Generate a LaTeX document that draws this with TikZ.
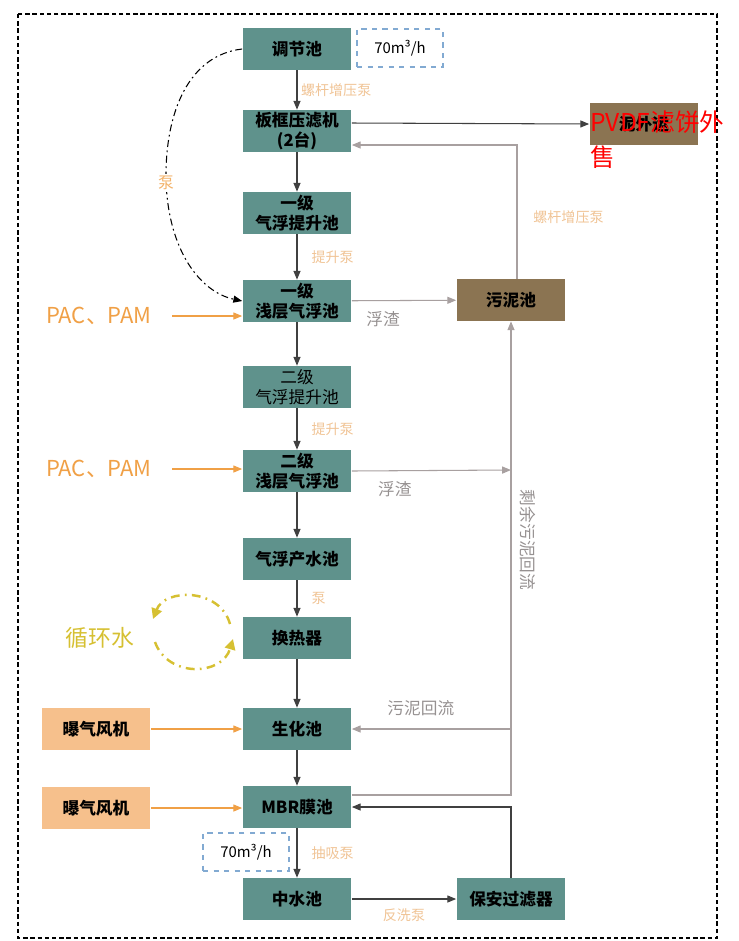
\documentclass[tikz,border=0pt]{standalone}
\usepackage{fontspec}
\setmainfont{Noto Sans CJK SC}
\usetikzlibrary{positioning, arrows.meta, calc}

\definecolor{poolteal}{RGB}{95,146,140}
\definecolor{sludgebrown}{RGB}{139,116,82}
\definecolor{blowerpeach}{RGB}{246,192,140}
\definecolor{flowdark}{RGB}{64,64,64}
\definecolor{flowgray}{RGB}{168,160,160}
\definecolor{labelgray}{RGB}{150,145,145}
\definecolor{dosorange}{RGB}{240,160,70}
\definecolor{pumpbeige}{RGB}{240,196,150}
\definecolor{loopyellow}{RGB}{214,192,50}
\definecolor{ratedash}{RGB}{130,170,210}

\begin{document}
\begin{tikzpicture}[
    x=0.02cm, y=-0.02cm,
    % ── node styles ─────────────────────────────────────────
    pool/.style = { fill=poolteal, minimum width=2.18cm, minimum height=0.84cm,
            align=center, inner sep=1pt, font=\fontsize{9.5}{11.5}\selectfont\bfseries, },
    sludge/.style = {pool, fill=sludgebrown}, blower/.style = {pool,
            fill=blowerpeach}, rate/.style = { draw=ratedash, dashed, line width=0.7pt,
            minimum width=1.72cm, minimum height=0.76cm, font=\fontsize{8.5}{10}\selectfont, },
    pump/.style = {text=pumpbeige, font=\fontsize{8}{10}\selectfont, inner sep=1pt},
    scum/.style = {text=labelgray, font=\fontsize{9.5}{11}\selectfont, inner sep=1pt},
    dosetext/.style = {text=dosorange, font=\fontsize{12.5}{15}\selectfont},
    flow/.style = {draw=flowdark, line width=0.6pt, -{Triangle[length=5pt,width=4pt]}},
    backflow/.style = {draw=flowgray, line width=0.6pt, -{Triangle[length=5pt,width=4pt]}},
    dose/.style = {draw=dosorange, line width=0.6pt, -{Triangle[length=5pt,width=4pt]}},
    pumpline/.style = {draw=black, line width=0.6pt, dash pattern=on 4pt off 2pt on 1pt off 2pt,
            -{Triangle[length=5pt,width=4pt]}},
    loopflow/.style = {draw=loopyellow, line width=1.4pt, dash pattern=on 5pt off 3pt on 1pt off 3pt,
            -{Triangle[length=6pt,width=6pt]}},
    ]

    \useasboundingbox (0,0) rectangle (738,941);
    \draw[line width=1.3pt, dash pattern=on 2.5pt off 1.6pt] (18,14) rectangle (717,938);

    % ============================================================
    % MAIN COLUMN
    % ============================================================
    \node[pool] (tiaojie) at (297,49) {调节池};
    \node[pool] (filterpress) at (297,131) {板框压滤机\\(2台)};
    \node[pool] (lift1) at (297,213) {一级\\气浮提升池};
    \node[pool] (flotation1) at (297,301) {一级\\浅层气浮池};
    \node[pool, font=\fontsize{9.5}{11.5}\selectfont] (lift2) at (297,387) {二级\\气浮提升池};
    \node[pool] (flotation2) at (297,471) {二级\\浅层气浮池};
    \node[pool] (product) at (297,559) {气浮产水池};
    \node[pool] (exchanger) at (297,638) {换热器};
    \node[pool] (bio) at (297,729) {生化池};
    \node[pool] (mbr) at (297,807) {MBR膜池};
    \node[pool] (reuse) at (297,899) {中水池};

    % ============================================================
    % SIDE NODES
    % ============================================================
    \node[sludge] (sludgeout) at (644,124) {泥外运};
    \node[sludge] (sludgepit) at (511,300) {污泥池};
    \node[pool] (guard) at (511,899) {保安过滤器};
    \node[blower] (blower1) at (96,729) {曝气风机};
    \node[blower] (blower2) at (96,808) {曝气风机};
    \node[rate] (rate-top) at (400,48) {70m³/h};
    \node[rate] (rate-bottom) at (246,852) {70m³/h};
    \node[dosetext] (pac1) at (99,316) {PAC、PAM};
    \node[dosetext] (pac2) at (99,469) {PAC、PAM};
    \node[text=loopyellow, font=\fontsize{13}{15}\selectfont] (cooling) at (100,638) {循环水};
    \node[anchor=north west, text=red, align=left, inner sep=0pt,
        font=\fontsize{14}{20}\selectfont] (cake-note) at (590,110) {PVDF滤饼外\\售};

    % ============================================================
    % MAIN FLOW
    % ============================================================
    \draw[flow] (tiaojie) -- (filterpress) node[pump, midway, right=1pt] {螺杆增压泵};
    \draw[flow] (filterpress) -- (lift1);
    \draw[flow] (lift1) -- (flotation1) node[pump, midway, right=7pt] {提升泵};
    \draw[flow] (flotation1) -- (lift2);
    \draw[flow] (lift2) -- (flotation2) node[pump, midway, right=7pt] {提升泵};
    \draw[flow] (flotation2) -- (product);
    \draw[flow] (product) -- (exchanger) node[pump, midway, right=7pt] {泵};
    \draw[flow] (exchanger) -- (bio);
    \draw[flow] (bio) -- (mbr);
    \draw[flow] (mbr) -- (reuse) node[pump, midway, right=7pt] {抽吸泵};
    \draw[flow] (reuse) -- (guard) node[pump, midway, below=4pt] {反洗泵};
    \draw[flow] (guard.north) |- (mbr.east);
    \draw[flow] ($(filterpress.east)+(0,-8)$) -- (sludgeout.west);

    % dash-dot pump line
    \draw[pumpline] (tiaojie.west) .. controls (190,55) and (165,110) .. (166,180)
    .. controls (168,250) and (200,292) .. (flotation1.west);
    \node[pump, fill=white, text=dosorange!80, font=\fontsize{9}{10}\selectfont] (bypass-pump) at (166,183) {泵};

    % ============================================================
    % SLUDGE / SCUM LINES
    % ============================================================
    \coordinate (riser-tap) at (511,470);
    \coordinate (bio-tap) at (511,729);
    \draw[backflow] (flotation1) -- (sludgepit) node[scum, pos=0.3, below=5pt] {浮渣};
    \draw[backflow] (flotation2.east) -- (riser-tap) node[scum, pos=0.27, below=5pt] {浮渣};
    \draw[backflow] ($(mbr.east)+(0,-12)$) -| (sludgepit.south);
    \draw[backflow] (bio-tap) -- (bio.east) node[scum, midway, above=6pt, xshift=-6pt] {污泥回流};
    \draw[backflow] ($(sludgepit.north)+(6,0)$) |- ($(filterpress.east)+(0,14)$)
    node[pump, pos=0.23, right=8pt] {螺杆增压泵};
    \node[scum, rotate=-90] (excess-label) at (528,540) {剩余污泥回流};

    % ============================================================
    % DOSING, AIR, COOLING WATER
    % ============================================================
    \draw[dose] ($(pac1.east)+(14,0)$) -- (pac1.east -| flotation1.west);
    \draw[dose] ($(pac2.east)+(14,0)$) -- (pac2.east -| flotation2.west);
    \draw[dose] (blower1) -- (bio);
    \draw[dose] (blower2) -- (blower2 -| mbr.west);

    \coordinate (loop-top-start) at (230,624);
    \coordinate (loop-top-end) at (153,619);
    \coordinate (loop-bot-start) at (155,642);
    \coordinate (loop-bot-end) at (233,639);
    \draw[loopflow] (loop-top-start) .. controls (220,588) and (165,588) .. (loop-top-end);
    \draw[loopflow] (loop-bot-start) .. controls (168,678) and (222,676) .. (loop-bot-end);

\end{tikzpicture}
\end{document}
